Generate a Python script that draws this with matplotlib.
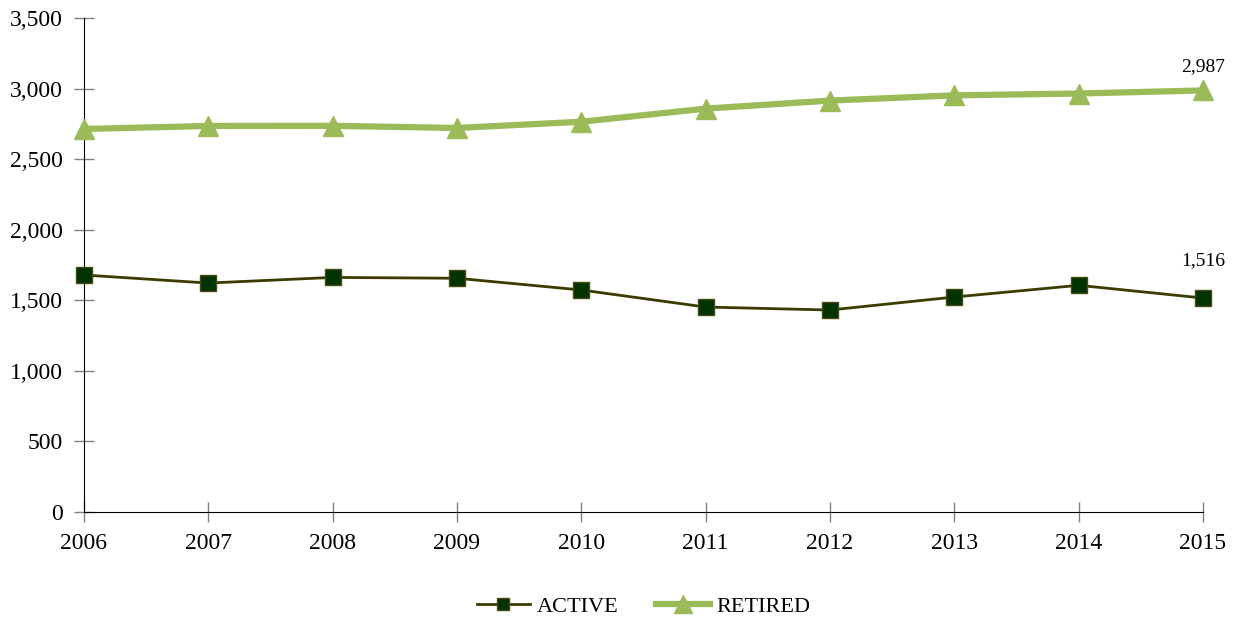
import numpy as np
import matplotlib.pyplot as plt

plt.rcParams['font.family'] = ['Liberation Serif', 'DejaVu Serif']

years = [2006, 2007, 2008, 2009, 2010, 2011, 2012, 2013, 2014, 2015]
active = [1679, 1622, 1662, 1656, 1573, 1452, 1431, 1523, 1606, 1516]
retired = [2714, 2735, 2736, 2721, 2765, 2858, 2915, 2952, 2965, 2987]

fig = plt.figure(figsize=(12.4, 6.19), dpi=100)
ax = fig.add_axes([0.0677, 0.1729, 0.9024, 0.798])

ax.plot(years, active, color='#3b3b00', linewidth=2, marker='s', markersize=11,
        markerfacecolor='#003300', markeredgecolor='#4a4a10', markeredgewidth=1,
        label='ACTIVE', clip_on=False, zorder=3)
ax.plot(years, retired, color='#9bbb59', linewidth=4.5, marker='^', markersize=15,
        markerfacecolor='#9bbb59', markeredgecolor='#9bbb59',
        label='RETIRED', clip_on=False, zorder=3)

# 最后一个点的数值标签
ax.annotate(f'{active[-1]:,}', (years[-1], active[-1]), xytext=(0, 27),
            textcoords='offset points', ha='center', va='center', fontsize=14)
ax.annotate(f'{retired[-1]:,}', (years[-1], retired[-1]), xytext=(0, 17),
            textcoords='offset points', ha='center', va='center', fontsize=14)

ax.set_xlim(2006, 2015)
ax.set_ylim(0, 3500)
ax.set_xticks(years)
ax.set_yticks(np.arange(0, 3501, 500))
ax.set_yticklabels([f'{v:,}' for v in range(0, 3501, 500)])

for s in ['top', 'right']:
    ax.spines[s].set_visible(False)
ax.tick_params(axis='both', direction='inout', length=14, width=1, colors='#808080',
               labelcolor='black', labelsize=17)
ax.tick_params(axis='x', pad=8)
ax.tick_params(axis='y', pad=8)

ax.legend(loc='upper center', bbox_to_anchor=(0.5, -0.13), ncol=2, frameon=False,
          fontsize=16, handlelength=2.4, handletextpad=0.3, columnspacing=1.7,
          markerscale=0.85)

plt.savefig('out.png', dpi=100)
